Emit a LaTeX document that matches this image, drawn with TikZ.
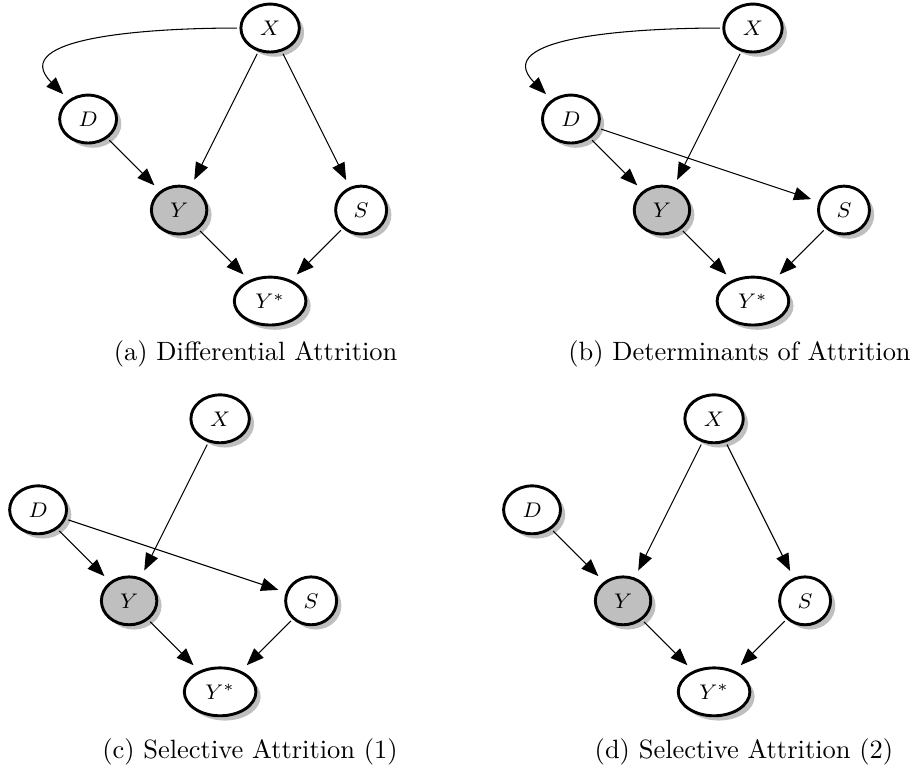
\documentclass[tikz,border=0pt]{standalone}
\usepackage{amssymb}
\usepackage{tikz}
\usetikzlibrary{matrix,shapes.geometric,shadows}
\usetikzlibrary{arrows.meta}

\tikzset{
	var/.style={ellipse, draw, line width=1.1pt, fill=white, font=\footnotesize,
		inner xsep=4pt, inner ysep=3.6pt, text height=5.6pt, text depth=0pt, outer sep=1.5pt,
		drop shadow={shadow xshift=1.8pt, shadow yshift=-1.8pt, fill=black!25, opacity=1}},
	obs/.style={fill=black!25},
	grid/.style={matrix of math nodes, nodes={var},
		row sep={34.4pt,between origins}, column sep={34.4pt,between origins}},
}

\begin{document}
\begin{tikzpicture}[>={Triangle[length=6.5pt,width=5pt]}, shorten >=2pt]
	\useasboundingbox (0,0) rectangle (346.6pt,-291.4pt);
	% (a)
	\matrix (ma) [grid, matrix anchor=ma-2-1.center] at (33.3pt,-45pt)
	{
		& & X & \\
		D & & & \\
		& |[obs]| Y & & S \\
		& & Y^* & \\
	};
	\path[->]
	(ma-1-3) edge[out=180, in=135, looseness=1.2] (ma-2-1)
	(ma-1-3) edge (ma-3-2)
	(ma-1-3) edge (ma-3-4)
	(ma-2-1) edge (ma-3-2)
	(ma-3-2) edge (ma-4-3)
	(ma-3-4) edge (ma-4-3);
	\node[anchor=base] (capa) at (96.6pt,-136.4pt) {(a) Differential Attrition};
	% (b)
	\matrix (mb) [grid, matrix anchor=mb-2-1.center] at (215.8pt,-45pt)
	{
		& & X & \\
		D & & & \\
		& |[obs]| Y & & S \\
		& & Y^* & \\
	};
	\path[->]
	(mb-1-3) edge[out=180, in=135, looseness=1.2] (mb-2-1)
	(mb-1-3) edge (mb-3-2)
	(mb-2-1) edge (mb-3-2)
	(mb-2-1) edge (mb-3-4)
	(mb-3-2) edge (mb-4-3)
	(mb-3-4) edge (mb-4-3);
	\node[anchor=base] (capb) at (279.5pt,-136.4pt) {(b) Determinants of Attrition};
	% (c)
	\matrix (mc) [grid, matrix anchor=mc-2-1.center] at (14.4pt,-192.7pt)
	{
		& & X & \\
		D & & & \\
		& |[obs]| Y & & S \\
		& & Y^* & \\
	};
	\path[->]
	(mc-1-3) edge (mc-3-2)
	(mc-2-1) edge (mc-3-2)
	(mc-2-1) edge (mc-3-4)
	(mc-3-2) edge (mc-4-3)
	(mc-3-4) edge (mc-4-3);
	\node[anchor=base] (capc) at (94.5pt,-286.6pt) {(c) Selective Attrition (1)};
	% (d)
	\matrix (md) [grid, matrix anchor=md-2-1.center] at (201.1pt,-192.7pt)
	{
		& & X & \\
		D & & & \\
		& |[obs]| Y & & S \\
		& & Y^* & \\
	};
	\path[->]
	(md-1-3) edge (md-3-2)
	(md-1-3) edge (md-3-4)
	(md-2-1) edge (md-3-2)
	(md-3-2) edge (md-4-3)
	(md-3-4) edge (md-4-3);
	\node[anchor=base] (capd) at (281.2pt,-286.6pt) {(d) Selective Attrition (2)};
\end{tikzpicture}
\end{document}
